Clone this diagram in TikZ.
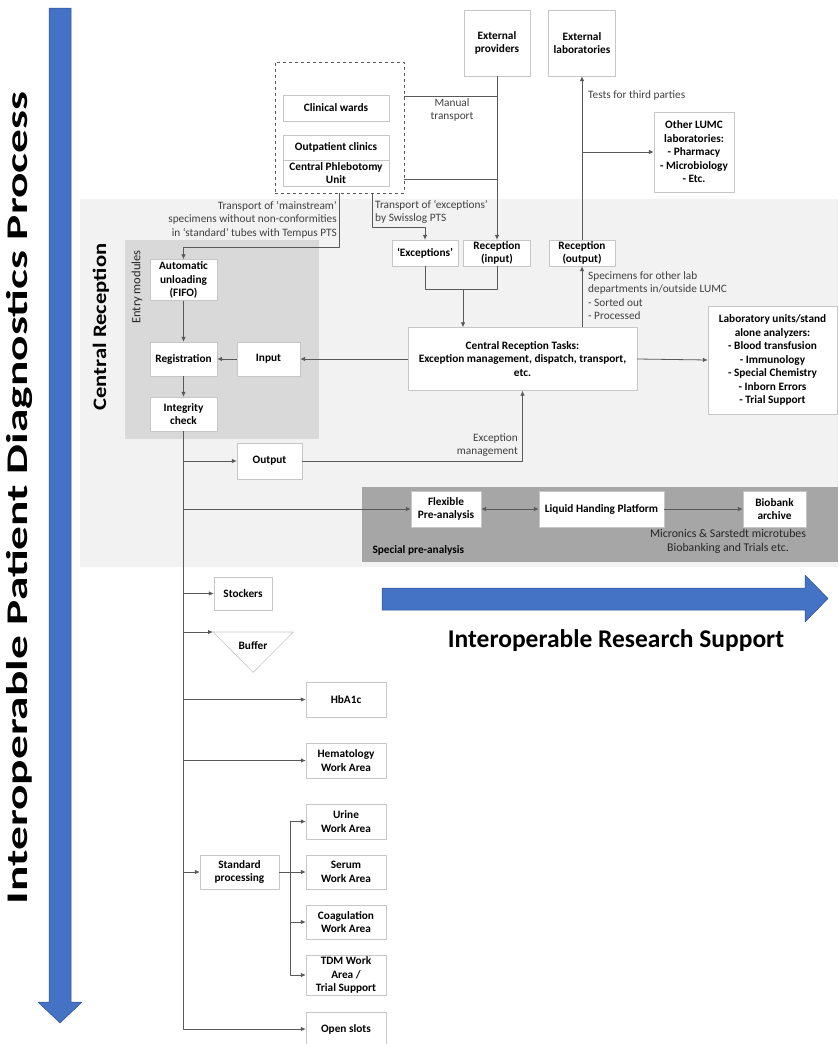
\documentclass[tikz,border=0pt]{standalone}
\usepackage{fontspec}
\setmainfont{Carlito}
\usetikzlibrary{arrows.meta}
\definecolor{bluearrow}{HTML}{4472C4}
\definecolor{blueedge}{HTML}{2F528F}
\definecolor{bandgray}{HTML}{F2F2F2}
\definecolor{entrygray}{HTML}{D9D9D9}
\definecolor{specgray}{HTML}{A6A6A6}
\definecolor{linegray}{HTML}{595959}
\tikzset{
  box/.style={draw=gray!45, fill=white, align=center, inner sep=1pt,
    font=\bfseries\fontsize{11.3}{13.5}\selectfont},
  lbl/.style={inner sep=0pt, text=black!75, font=\fontsize{11.3}{13.5}\selectfont},
  link/.style={draw=linegray, line width=0.8pt},
  flow/.style={link, -{Latex[length=5pt,width=4.5pt]}},
  bigarrow/.style={fill=bluearrow, draw=blueedge, line width=0.5pt},
}
\begin{document}
\begin{tikzpicture}[x=1pt,y=-1pt,line join=round]
	\useasboundingbox (0,0) rectangle (838,1044);
	% backgrounds
	\fill[bandgray] (80,199) rectangle (838,567);
	\fill[entrygray] (125,240) rectangle (319,439);
	\fill[specgray] (362,487) rectangle (838,562);
	% blue arrows
	\path[bigarrow] (49,8) -- (71,8) -- (71,1002) -- (82,1002) -- (60,1023)
		-- (38,1002) -- (49,1002) -- cycle;
	\path[bigarrow] (382,588) -- (805,588) -- (805,575) -- (828,598.5)
		-- (805,622) -- (805,610) -- (382,610) -- cycle;
	\node[rotate=90, font=\bfseries\fontsize{30}{34}\selectfont] (diaglbl) at (19,498)
		{\scalebox{1.58}[1]{Interoperable Patient Diagnostics Process}};
	\node[font=\bfseries\fontsize{25.5}{30}\selectfont] (reslbl) at (616,641)
		{Interoperable Research Support};
	\node[rotate=90, font=\bfseries\fontsize{19}{22}\selectfont] (crlbl) at (101,327)
		{\scalebox{1.19}[1]{Central Reception}};
	\node[rotate=90, lbl, text=black!85, font=\fontsize{12.5}{14}\selectfont] (entrylbl) at (137,287)
		{Entry modules};
	\node[anchor=south west, font=\bfseries\fontsize{11.3}{13}\selectfont] (speclbl) at (369,559)
		{Special pre-analysis};

	% sources
	\node[draw=linegray, dashed, line width=0.8pt, minimum width=129, minimum height=131]
		(sources) at (339.5,127.5) {};
	\node[box, minimum width=106, minimum height=26] (wards) at (336,108) {Clinical wards};
	\node[box, minimum width=106, minimum height=25] (outpat) at (336,147.5) {Outpatient clinics};
	\node[box, minimum width=106, minimum height=26] (phleb) at (336,173) {Central Phlebotomy\\Unit};
	\node[box, minimum width=66, minimum height=66] (extprov) at (497,43) {External\\providers};
	\node[box, minimum width=67, minimum height=66] (extlab) at (582,43) {External\\laboratories};
	\node[box, minimum width=80, minimum height=80] (otherlab) at (694,152)
		{Other LUMC\\laboratories:\\- Pharmacy\\- Microbiology\\- Etc.};

	% central reception
	\node[box, minimum width=66, minimum height=26] (exc) at (425,253) {‘Exceptions’};
	\node[box, minimum width=67, minimum height=26] (recin) at (497,253) {Reception\\(input)};
	\node[box, minimum width=66, minimum height=26] (recout) at (582,253) {Reception\\(output)};
	\node[box, minimum width=229, minimum height=63] (tasks) at (522.5,359)
		{Central Reception Tasks:\\Exception management, dispatch, transport,\\etc.};
	\node[box, minimum width=129, minimum height=108] (labunits) at (772.5,360)
		{Laboratory units/stand\\alone analyzers:\\- Blood transfusion\\- Immunology\\
		- Special Chemistry\\- Inborn Errors\\- Trial Support};
	\node[box, minimum width=67, minimum height=41] (autoun) at (183.5,280) {Automatic\\unloading\\(FIFO)};
	\node[box, minimum width=67, minimum height=34] (regist) at (183.5,359) {Registration};
	\node[box, minimum width=63, minimum height=34] (input) at (268.5,359) {Input};
	\node[box, minimum width=67, minimum height=34] (integ) at (183.5,414) {Integrity\\check};
	\node[box, minimum width=65, minimum height=36] (output) at (269.5,461) {Output};

	% special pre-analysis
	\node[box, minimum width=70, minimum height=36] (flex) at (446,509) {Flexible\\Pre-analysis};
	\node[box, minimum width=125, minimum height=36] (liquid) at (601.5,509) {Liquid Handing Platform};
	\node[box, minimum width=63, minimum height=36] (biobank) at (774.5,509) {Biobank\\archive};

	% work areas
	\node[box, minimum width=58, minimum height=33] (stockers) at (243,593.5) {Stockers};
	\node[minimum width=80, minimum height=40, inner sep=0pt, anchor=north west] (buffer) at (213,632) {};
	\draw[gray!45, line width=0.6pt] (buffer.north west) -- (buffer.north east) -- (buffer.south) -- cycle;
	\node[font=\bfseries\fontsize{11.3}{13}\selectfont] (buftxt) at (253,646) {Buffer};
	\node[box, minimum width=80, minimum height=35] (hba) at (346,699.5) {HbA1c};
	\node[box, minimum width=80, minimum height=35] (hema) at (346,760.5) {Hematology\\Work Area};
	\node[box, minimum width=79, minimum height=34] (stdproc) at (239.5,872) {Standard\\processing};
	\node[box, minimum width=80, minimum height=35] (urine) at (346,821.5) {Urine\\Work Area};
	\node[box, minimum width=80, minimum height=34] (serum) at (346,872) {Serum\\Work Area};
	\node[box, minimum width=80, minimum height=34] (coag) at (346,922) {Coagulation\\Work Area};
	\node[box, minimum width=80, minimum height=40] (tdm) at (346,975) {TDM Work\\Area /\\Trial Support};
	\node[box, minimum width=80, minimum height=34] (openslots) at (346,1029) {Open slots};

	% junctions
	\coordinate (jtop) at (497,96);
	\coordinate (jbot) at (497,179);
	\coordinate (exbend) at (372,227);
	\coordinate (msbend) at (339.5,247);
	\coordinate (merge) at (463,289);
	\coordinate (third) at (582,152);
	\coordinate (split) at (290,872);

	% connectors, top
	\draw[link] (sources.east |- jtop) -- (jtop);
	\draw[link] (sources.east |- jbot) -- (jbot);
	\draw[flow] (extprov.south) -- (recin.north);
	\draw[flow] (sources.south -| exbend) -- (exbend) -| (exc.north);
	\draw[flow] (sources.south) -- (msbend) -| (autoun.north);
	\draw[link] (exc.south) |- (merge);
	\draw[link] (recin.south) |- (merge);
	\draw[flow] (merge) -- (tasks.north -| merge);
	\draw[flow] (tasks.north -| recout) -- (recout.south);
	\draw[flow] (recout.north) -- (extlab.south);
	\draw[flow] (third) -- (otherlab.west);
	\draw[flow] (tasks.east) -- (labunits.west);
	\draw[flow] (tasks.west) -- (input.east);
	\draw[flow] (input.west) -- (regist.east);
	\draw[flow] (autoun.south) -- (regist.north);
	\draw[flow] (regist.south) -- (integ.north);
	\draw[flow] (output.east) -| (tasks.south);

	% trunk and branches
	\draw[flow] (integ.south) |- (openslots.west);
	\draw[flow] (integ.south |- output) -- (output.west);
	\draw[flow] (integ.south |- flex) -- (flex.west);
	\draw[{Latex[length=5pt,width=4.5pt]}-{Latex[length=5pt,width=4.5pt]}, link] (flex.east) -- (liquid.west);
	\draw[flow] (liquid.east) -- (biobank.west);
	\draw[flow] (integ.south |- stockers) -- (stockers.west);
	\draw[flow] (integ.south |- buffer.north west) -- (buffer.north west);
	\draw[flow] (integ.south |- hba) -- (hba.west);
	\draw[flow] (integ.south |- hema) -- (hema.west);
	\draw[flow] (integ.south |- stdproc) -- (stdproc.west);
	\draw[link] (stdproc.east) -- (split);
	\draw[flow] (split) |- (urine.west);
	\draw[flow] (split) -- (serum.west);
	\draw[flow] (split) |- (coag.west);
	\draw[flow] (split) |- (tdm.west);

	% labels
	\node[lbl, align=center] (manlbl) at (452,110) {Manual\\transport};
	\node[lbl, align=left, anchor=north west] (exclbl) at (375,200)
		{Transport of ‘exceptions’\\by Swisslog PTS};
	\node[lbl, align=right, anchor=north east] (mslbl) at (337,201)
		{Transport of ‘mainstream’\\specimens without non-conformities\\in ‘standard’ tubes with Tempus PTS};
	\node[lbl, anchor=west] (thirdlbl) at (588,95) {Tests for third parties};
	\node[lbl, align=left, anchor=north west] (speclbl2) at (588,271)
		{Specimens for other lab\\departments in/outside LUMC\\- Sorted out\\- Processed};
	\node[lbl, align=right, anchor=south east] (exmlbl) at (518,457) {Exception\\management};
	\node[lbl, align=center, text=black!85, font=\fontsize{11.8}{14}\selectfont] (microlbl) at (728,541)
		{Micronics \& Sarstedt microtubes\\Biobanking and Trials etc.};
\end{tikzpicture}
\end{document}
